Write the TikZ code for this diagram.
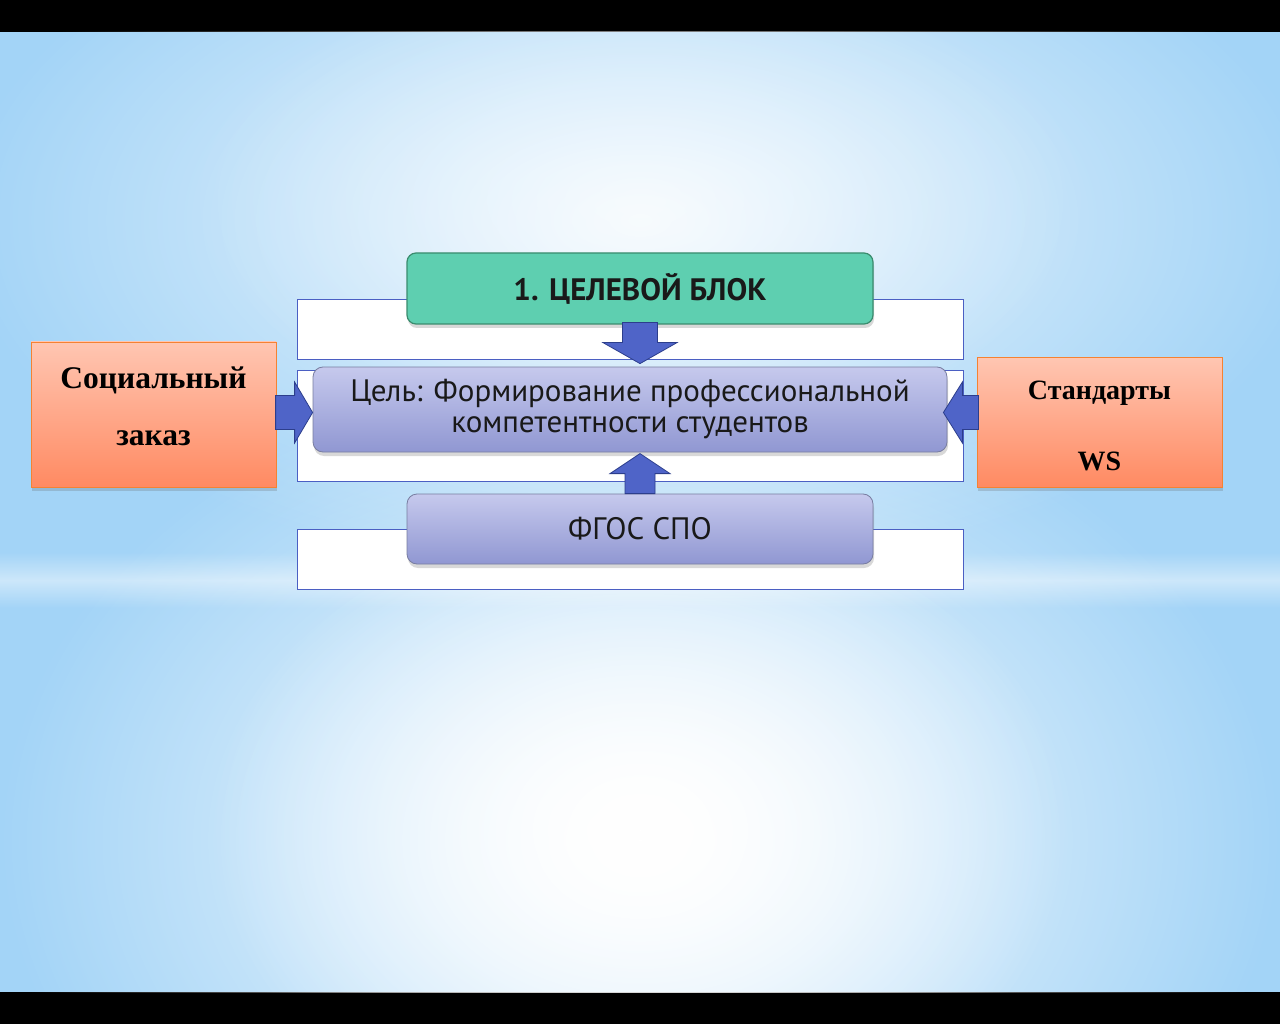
\documentclass[tikz,border=0pt]{standalone}
\usepackage{fontspec}
\setmainfont{Liberation Serif}
\newfontfamily\sansf{PT Sans}
\usetikzlibrary{calc,shadows,fadings}
\tikzfading[name=glowfade, inner color=transparent!0, outer color=transparent!100]
\tikzfading[name=bandfade, top color=transparent!100, bottom color=transparent!100, middle color=transparent!0]
\definecolor{bgblue}{RGB}{163,212,247}
\definecolor{arrowfill}{RGB}{79,100,200}
\definecolor{arrowdraw}{RGB}{44,62,140}
\definecolor{greenfill}{RGB}{94,207,176}
\definecolor{greendraw}{RGB}{58,140,110}
\definecolor{lavtop}{RGB}{198,201,237}
\definecolor{lavbot}{RGB}{144,151,210}
\definecolor{lavdraw}{RGB}{120,125,160}
\definecolor{ortop}{RGB}{255,198,178}
\definecolor{orbot}{RGB}{255,138,98}
\definecolor{ordraw}{RGB}{245,130,50}
\definecolor{framedraw}{RGB}{75,95,195}
\newcommand\blockarr[6]{%
  \draw[barrow, shift={(#1)}, rotate=#2] (0,0) -- (-#6,#5) -- (-#6,#4) -- (-#3,#4) -- (-#3,-#4) -- (-#6,-#4) -- (-#6,-#5) -- cycle;}
\begin{document}
\begin{tikzpicture}[x=1pt,y=-1pt,
  frame/.style={draw=framedraw, line width=0.6pt, fill=white, minimum width=666, minimum height=#1, inner sep=0pt},
  barrow/.style={fill=arrowfill, draw=arrowdraw, line width=0.8pt, line join=miter},
  boxshadow/.style={drop shadow={shadow xshift=1pt, shadow yshift=-4pt, opacity=0.25, fill=black!60}},
  greenbox/.style={draw=greendraw, line width=1.2pt, fill=greenfill, rounded corners=9pt, minimum width=466, minimum height=71, inner sep=0pt, boxshadow, font=\sansf\bfseries\fontsize{31}{34}\selectfont, text=black!90},
  lavbox/.style={draw=lavdraw, line width=0.8pt, top color=lavtop, bottom color=lavbot, rounded corners=10pt, inner sep=0pt, boxshadow, font=\sansf\fontsize{31}{31}\selectfont, text=black!90, align=center},
  orbox/.style={draw=ordraw, line width=0.8pt, top color=ortop, bottom color=orbot, minimum width=245, inner sep=0pt, boxshadow},
  sertext/.style={font=\bfseries\fontsize{#1}{#1}\selectfont, inner sep=0pt}
]
\useasboundingbox (0,0) rectangle (1280,1024);
% background
\fill[black] (0,0) rectangle (1280,1024);
\begin{scope}
\clip (0,32) rectangle (1280,992);
\fill[bgblue] (0,32) rectangle (1280,992);
\fill[white, path fading=glowfade, fill opacity=0.85] (640,220) ellipse (680 and 360);
\fill[white, path fading=glowfade, fill opacity=0.5] (640,200) ellipse (450 and 240);
\fill[white, path fading=glowfade] (640,840) ellipse (640 and 480);
\fill[white, path fading=glowfade] (640,830) ellipse (430 and 330);
\fill[white, path fading=bandfade, fill opacity=0.45] (-50,552) rectangle (1330,608);
\end{scope}
% white frames
\node[frame=60] (r1) at (630,329) {};
\node[frame=111] (r2) at (630,425.5) {};
\node[frame=60] (r3) at (630,559) {};
% boxes
\node[greenbox] (goal) at (640,288.5) {1. ЦЕЛЕВОЙ БЛОК};
\coordinate (tipD) at ($(goal.south)+(0,39)$);
\blockarr{tipD}{-90}{41}{17.5}{37}{21}
\node[lavbox, minimum width=634, minimum height=85] (aim) at (630,409.5) {\raisebox{-2pt}{\parbox{600pt}{\centering Цель: Формирование профессиональной\\компетентности студентов}}};
\node[lavbox, minimum width=466, minimum height=70] (fgos) at (640,529) {ФГОС СПО};
\coordinate (tipU) at ($(fgos.north)+(0,-40)$);
\blockarr{tipU}{90}{40}{15}{30}{20}
\node[orbox, minimum height=145] (soc) at (153.5,414.5) {};
\node[sertext=31.5] (soc1) at (153.5,380) {Социальный};
\node[sertext=31.5] (soc2) at (153.5,438) {заказ};
\node[orbox, minimum height=130] (ws) at (1099.5,422) {};
\node[sertext=28] (ws1) at (1099.5,393) {Стандарты};
\node[sertext=28] (ws2) at (1099.5,461) {WS};
\coordinate (tipR) at ($(aim.west)+(0,3)$);
\blockarr{tipR}{0}{37}{17}{30.5}{18}
\coordinate (tipL) at ($(aim.east)+(-4,3)$);
\blockarr{tipL}{180}{35}{17}{30.5}{19}
\end{tikzpicture}
\end{document}
